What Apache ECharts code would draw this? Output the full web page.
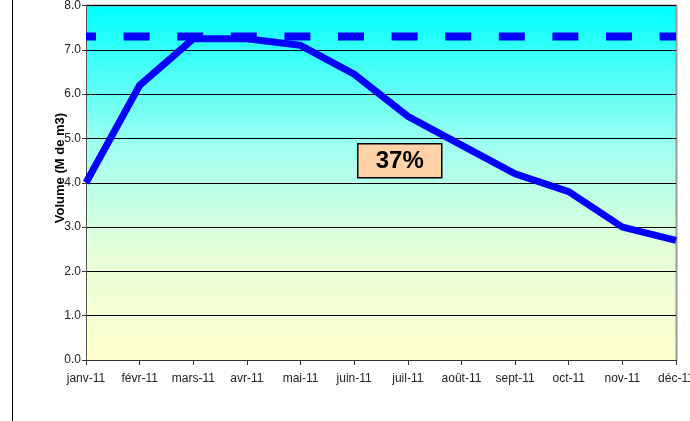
<!DOCTYPE html>
<html><head><meta charset="utf-8">
<script src="https://cdn.jsdelivr.net/npm/echarts@6/dist/echarts.min.js"></script>
<style>html,body{margin:0;padding:0;background:#fff}#c{width:690px;height:421px}</style>
</head><body><div id="c"></div>
<script>
var categories = ['janv-11','févr-11','mars-11','avr-11','mai-11','juin-11','juil-11','août-11','sept-11','oct-11','nov-11','déc-11'];
var volume = [4.0, 6.2, 7.25, 7.25, 7.1, 6.45, 5.5, 4.85, 4.2, 3.8, 3.0, 2.7];
var capacity = [7.3, 7.3, 7.3, 7.3, 7.3, 7.3, 7.3, 7.3, 7.3, 7.3, 7.3, 7.3];
var yTicks = {min: 0, max: 8, interval: 1};
var yTitle = 'Volume (M de m3)';
var annotation = '37%';

var chart = echarts.init(document.getElementById('c'));
chart.setOption({
  animation: false,
  grid: {left: 86, right: 14, top: 5.5, bottom: 61, show: true, borderWidth: 0,
    outerBoundsMode: 'none', containLabel: false,
    backgroundColor: new echarts.graphic.LinearGradient(0, 0, 0, 1, [
      {offset: 0, color: '#00FFFF'}, {offset: 0.4, color: '#A0FFF0'},
      {offset: 0.7, color: '#E6FFD8'}, {offset: 1, color: '#FFFFCC'}])},
  xAxis: {type: 'category', data: categories, boundaryGap: false,
    axisLine: {lineStyle: {color: '#333', width: 1}},
    axisTick: {show: true, length: 5, lineStyle: {color: '#333'}},
    axisLabel: {color: '#222', fontFamily: 'Liberation Sans, Arial', fontSize: 12, margin: 13, interval: 0,
      hideOverlap: false},
    splitLine: {show: false}},
  yAxis: {type: 'value', min: yTicks.min, max: yTicks.max, interval: yTicks.interval,
    axisLine: {show: true, lineStyle: {color: '#555', width: 1}},
    axisTick: {show: true, length: 4, lineStyle: {color: '#333'}},
    axisLabel: {color: '#222', fontFamily: 'Liberation Sans, Arial', fontSize: 12, margin: 5,
      formatter: function(v){return v.toFixed(1);}},
    splitLine: {show: true, lineStyle: {color: '#000', width: 1}}},
  series: [
    {type: 'line', data: capacity, symbol: 'none', z: 3,
      lineStyle: {color: '#0000FF', width: 8, type: [26, 27.6], dashOffset: 16, cap: 'butt'}},
    {type: 'line', data: volume, symbol: 'none', z: 4,
      lineStyle: {color: '#0000FF', width: 7, join: 'miter'}}
  ],
  graphic: [
    {type: 'line', shape: {x1: 12.5, y1: 0, x2: 12.5, y2: 421}, style: {stroke: '#000', lineWidth: 1}},
    {type: 'line', shape: {x1: 86, y1: 5.5, x2: 677, y2: 5.5}, style: {stroke: '#999', lineWidth: 2}},
    {type: 'line', shape: {x1: 676.5, y1: 5, x2: 676.5, y2: 360}, style: {stroke: '#999', lineWidth: 2}},
    {type: 'text', x: 60, y: 168, rotation: Math.PI / 2, z: 10,
      style: {text: yTitle, fill: '#000', font: 'bold 13px Liberation Sans, Arial', align: 'center', verticalAlign: 'middle'}},
    {type: 'group', left: 357, top: 143, children: [
      {type: 'rect', shape: {x: 0, y: 0, width: 84, height: 34}, style: {fill: '#FFD2A8', stroke: '#000', lineWidth: 1.5}},
      {type: 'text', x: 42, y: 18, style: {text: annotation, fill: '#000', font: 'bold 24px Liberation Sans, Arial', align: 'center', verticalAlign: 'middle'}}
    ]}
  ]
});
</script></body></html>
